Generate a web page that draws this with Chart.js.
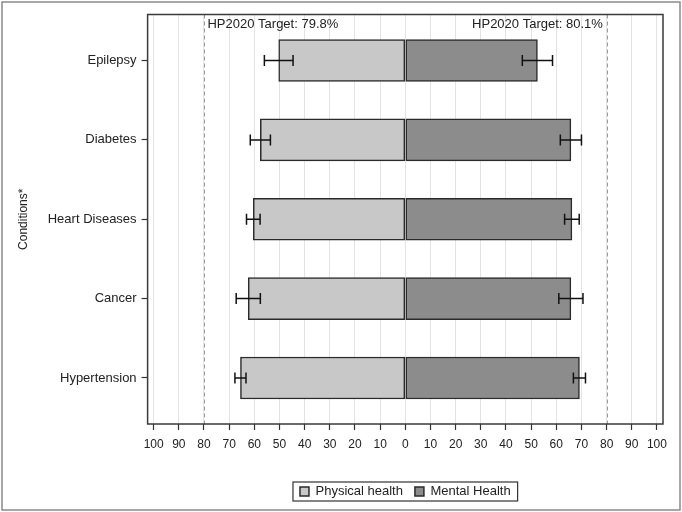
<!DOCTYPE html>
<html><head><meta charset="utf-8">
<script src="https://cdn.jsdelivr.net/npm/chart.js@4.4.1/dist/chart.umd.min.js"></script>
<style>html,body{margin:0;padding:0;background:#fff;} #wrap{width:682px;height:512px;position:relative;}</style>
</head><body><div id="wrap"><canvas id="c"></canvas></div>
<script>
const categories = ['Epilepsy', 'Diabetes', 'Heart Diseases', 'Cancer', 'Hypertension'];
const physicalHealth = [50.3, 57.6, 60.4, 62.4, 65.5];
const mentalHealth = [52.5, 65.8, 66.2, 65.8, 69.2];
const physicalError = [5.7, 4.0, 2.7, 4.8, 2.2];
const mentalError = [6.0, 4.2, 2.9, 4.8, 2.4];
const targetPhysical = 79.8;
const targetMental = 80.1;
const xTickValues = [-100, -90, -80, -70, -60, -50, -40, -30, -20, -10, 0, 10, 20, 30, 40, 50, 60, 70, 80, 90, 100];

Chart.defaults.font.family = '"Liberation Sans", Arial, sans-serif';
Chart.defaults.color = '#222';

const decor = {
  id: 'decor',
  beforeDraw(chart) {
    const ctx = chart.ctx;
    ctx.save();
    ctx.fillStyle = '#fff';
    ctx.fillRect(0, 0, chart.width, chart.height);
    ctx.restore();
  },
  beforeDatasetsDraw(chart) {
    const ctx = chart.ctx, xs = chart.scales.x, a = chart.chartArea;
    const xl = xs.getPixelForValue(-targetPhysical), xr = xs.getPixelForValue(targetMental);
    ctx.save();
    ctx.strokeStyle = '#9a9a9a';
    ctx.lineWidth = 1;
    ctx.setLineDash([4, 3]);
    [xl, xr].forEach(x => {
      ctx.beginPath();
      ctx.moveTo(Math.round(x) + 0.5, a.top);
      ctx.lineTo(Math.round(x) + 0.5, a.bottom);
      ctx.stroke();
    });
    ctx.setLineDash([]);
    ctx.fillStyle = '#222';
    ctx.font = '13px "Liberation Sans", Arial, sans-serif';
    ctx.textBaseline = 'middle';
    ctx.textAlign = 'left';
    ctx.fillText('HP2020 Target: ' + targetPhysical.toFixed(1) + '%', xl + 3, a.top + 10);
    ctx.textAlign = 'right';
    ctx.fillText('HP2020 Target: ' + targetMental.toFixed(1) + '%', xr - 4, a.top + 10);
    ctx.restore();
  },
  afterDatasetsDraw(chart) {
    const ctx = chart.ctx, xs = chart.scales.x;
    ctx.save();
    ctx.strokeStyle = '#111';
    ctx.lineWidth = 1.5;
    [[physicalHealth, physicalError, -1], [mentalHealth, mentalError, 1]].forEach((set, d) => {
      const meta = chart.getDatasetMeta(d);
      meta.data.forEach((bar, i) => {
        const v = set[0][i] * set[2], e = set[1][i];
        const x1 = xs.getPixelForValue(v - e), x2 = xs.getPixelForValue(v + e), y = bar.y;
        ctx.beginPath();
        ctx.moveTo(x1, y); ctx.lineTo(x2, y);
        ctx.moveTo(x1, y - 5.5); ctx.lineTo(x1, y + 5.5);
        ctx.moveTo(x2, y - 5.5); ctx.lineTo(x2, y + 5.5);
        ctx.stroke();
      });
    });
    ctx.restore();
  },
  afterDraw(chart) {
    const ctx = chart.ctx, a = chart.chartArea;
    ctx.save();
    ctx.strokeStyle = '#3a3a3a';
    ctx.lineWidth = 1.5;
    ctx.strokeRect(a.left, a.top, a.right - a.left, a.bottom - a.top);
    const lg = chart.legend;
    if (lg && lg.legendHitBoxes && lg.legendHitBoxes.length) {
      const hb = lg.legendHitBoxes;
      const l = Math.min(...hb.map(b => b.left)) - 7;
      const r = Math.max(...hb.map(b => b.left + b.width)) + 7;
      const t = Math.min(...hb.map(b => b.top)) - 3;
      const bt = Math.max(...hb.map(b => b.top + b.height)) + 3;
      ctx.lineWidth = 1.2;
      ctx.strokeStyle = '#333';
      ctx.strokeRect(l, t, r - l, bt - t);
    }
    ctx.strokeStyle = '#8a8a8a';
    ctx.lineWidth = 1.5;
    ctx.strokeRect(2, 2, chart.width - 4, chart.height - 4);
    ctx.restore();
  }
};

new Chart(document.getElementById('c'), {
  type: 'bar',
  data: {
    datasets: [
      {
        label: 'Physical health',
        data: physicalHealth.map((v, i) => ({ x: -v, y: i })),
        backgroundColor: '#c8c8c8',
        borderColor: '#2a2a2a',
        borderWidth: 1.5,
        borderSkipped: false,
        barThickness: 42,
        grouped: false
      },
      {
        label: 'Mental Health',
        data: mentalHealth.map((v, i) => ({ x: v, y: i })),
        backgroundColor: '#8c8c8c',
        borderColor: '#2a2a2a',
        borderWidth: 1.5,
        borderSkipped: false,
        barThickness: 42,
        grouped: false
      }
    ]
  },
  options: {
    indexAxis: 'y',
    responsive: true,
    maintainAspectRatio: false,
    animation: false,
    layout: { padding: { top: 14.5, left: 12, right: 19, bottom: 4 } },
    scales: {
      x: {
        type: 'linear',
        min: -102.4,
        max: 102.4,
        afterBuildTicks(scale) { scale.ticks = xTickValues.map(v => ({ value: v })); },
        afterFit(scale) { scale.height = 49; },
        ticks: { callback: v => String(Math.abs(v)), font: { size: 12 }, color: '#222', padding: 7, maxRotation: 0, autoSkip: false },
        grid: { color: '#e3e3e3', lineWidth: 1, tickColor: '#333', tickLength: 6, tickWidth: 1.2 },
        border: { display: false }
      },
      y: {
        type: 'linear',
        reverse: true,
        offset: false,
        min: -0.58,
        max: 4.58,
        afterBuildTicks(scale) { scale.ticks = categories.map((c, i) => ({ value: i })); },
        afterFit(scale) { scale.width = 135.6; },
        ticks: { callback: v => categories[v], font: { size: 13 }, color: '#222', padding: 5, autoSkip: false },
        grid: { offset: false, drawOnChartArea: false, tickColor: '#333', tickLength: 6, tickWidth: 1.2 },
        border: { display: false },
        title: { display: true, text: 'Conditions*', font: { size: 12 }, color: '#222', padding: { top: 4, bottom: 4 } }
      }
    },
    plugins: {
      legend: {
        position: 'bottom',
        fullSize: false,
        labels: { boxWidth: 9, boxHeight: 9, font: { size: 13 }, color: '#222', padding: 12 }
      },
      tooltip: { enabled: false }
    }
  },
  plugins: [decor]
});
</script>
</body></html>
